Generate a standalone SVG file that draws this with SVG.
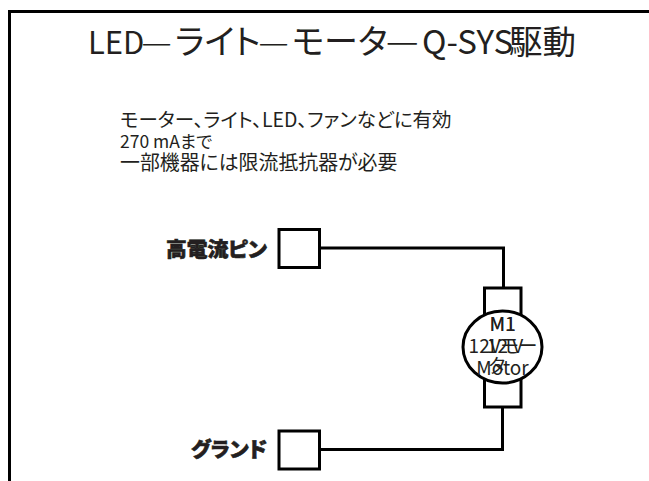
<svg xmlns="http://www.w3.org/2000/svg" width="649" height="481" viewBox="0 0 649 481">
<style>
text{font-family:"Noto Sans CJK JP",sans-serif;fill:#231f20;font-feature-settings:"palt"}
.t1{font-size:31px}
.t2{font-size:34px}
.body{font-size:19.500px}
.lab{font-size:20.800px;font-weight:900;text-anchor:end;stroke:#231f20;stroke-width:.6px}
.m{font-size:19px;text-anchor:middle}
.s{fill:#fff;stroke:#000;stroke-width:3}
.w{fill:none;stroke:#000;stroke-width:3}
</style>
<rect width="649" height="481" fill="#fff"/>
<path class="w" d="M9.500 481V11.500H649"/>
<text y="54" class="t2"><tspan class="t1" x="88">LED</tspan><tspan x="141.500" style="font-weight:300">—</tspan><tspan x="175">ライト</tspan><tspan x="258.500" style="font-weight:300">—</tspan><tspan x="292">モータ</tspan><tspan x="386" style="font-size:36.700px;font-weight:300">—</tspan><tspan x="422" style="font-size:33px">Q-SYS</tspan><tspan x="509" style="font-size:33.500px">駆動</tspan></text>
<g id="description">
<text class="body" x="120" y="127">モーター、ライト、LED、ファンなどに有効</text>
<text class="body" x="120" y="148" style="font-size:17.500px">270 mAまで</text>
<text class="body" x="120" y="170" style="font-size:19.900px">一部機器には限流抵抗器が必要</text>
</g>
<g id="connectors">
<path class="w" d="M320 248H503.500V288"/>
<path class="w" d="M502.500 407V449.500H320"/>
</g>
<g id="pin-high"><rect class="s" x="279" y="229.500" width="40.500" height="38"/><text class="lab" x="267" y="257">高電流ピン</text></g>
<g id="pin-ground"><rect class="s" x="279" y="431" width="40.500" height="38"/><text class="lab" x="267" y="457">グランド</text></g>
<g id="motor">
<rect class="s" x="484.500" y="288" width="36.500" height="119"/>
<ellipse class="s" cx="502.500" cy="347" rx="39.500" ry="36"/>
<text class="m" x="502.500" y="331">M1</text>
<text class="m" x="502.800" y="331.300">M1</text>
<text class="m" x="505" y="353">12 V</text>
<text class="m" x="503" y="353">12Vモー</text>
<text class="m" x="502.500" y="375">Motor</text>
<text class="m" x="497" y="373">タ</text>
</g>
</svg>
